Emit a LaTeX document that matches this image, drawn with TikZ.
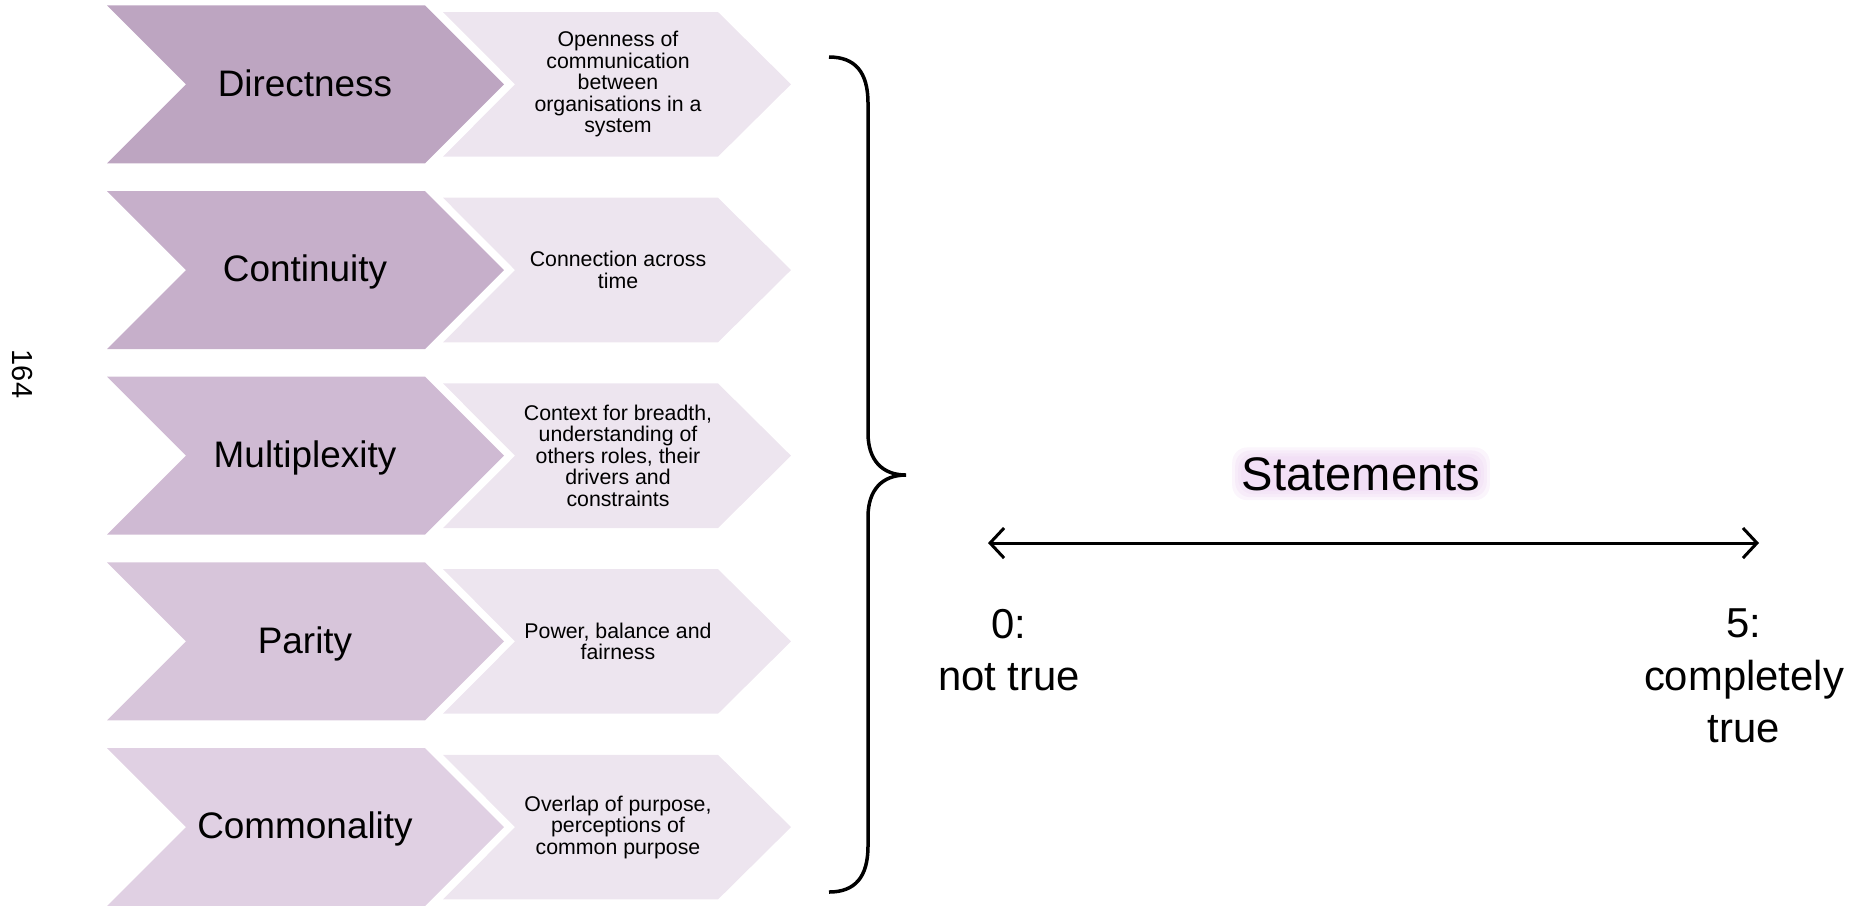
\documentclass[tikz,border=0pt]{standalone}
\usepackage{fontspec}
\setmainfont{Liberation Sans}
\usetikzlibrary{arrows.meta,positioning,calc,backgrounds}
\definecolor{mauve1}{HTML}{BDA5C1}
\definecolor{mauve2}{HTML}{C6AFCA}
\definecolor{mauve3}{HTML}{CFBAD3}
\definecolor{mauve4}{HTML}{D7C5DA}
\definecolor{mauve5}{HTML}{E0D0E3}
\definecolor{lilac}{HTML}{EDE5EF}
\definecolor{glowpink}{HTML}{E9CBEF}
\tikzstyle{bigtext}=[anchor=base, inner sep=0pt, font=\fontsize{10.5}{12}\selectfont]
\tikzstyle{desctext}=[align=center, inner sep=0pt, font=\fontsize{6.06}{6.12}\selectfont]
\tikzstyle{scaletext}=[anchor=base, align=center, inner sep=0pt, font=\fontsize{11.9}{14.8}\selectfont]
\tikzstyle{stmttext}=[anchor=base, inner sep=0pt, font=\fontsize{13.4}{16}\selectfont]
\tikzstyle{glow}=[fill=glowpink, opacity=0.2, rounded corners=1.5mm]
\tikzstyle{connect}=[{Straight Barb[length=1.4mm,width=3mm]}-{Straight Barb[length=1.4mm,width=3mm]}, line width=0.3mm]
\begin{document}
\begin{tikzpicture}
  \useasboundingbox (0,0) rectangle (18.62,-9.05);
  \node[rotate=-90, inner sep=0pt, font=\fontsize{8.25}{10}\selectfont] (page) at (0.225,-3.74) {164};

  % chevrons with their labels
  \foreach \lbl/\desc/\col [count=\i] in {
      Directness/{Openness of\\communication\\between\\organisations in a\\system}/mauve1,
      Continuity/{Connection across\\time}/mauve2,
      Multiplexity/{Context for breadth,\\understanding of\\others roles, their\\drivers and\\constraints}/mauve3,
      Parity/{Power, balance and\\fairness}/mauve4,
      Commonality/{Overlap of purpose,\\perceptions of\\common purpose}/mauve5}{
    \pgfmathsetmacro{\y}{-0.843-(\i-1)*1.857}
    \fill[\col, shift={(0,\y)}] (1.07,0.79) -- (4.25,0.79) -- (5.04,0) -- (4.25,-0.79) -- (1.07,-0.79) -- (1.86,0) -- cycle;
    \fill[lilac, shift={(0,\y)}] (4.43,0.723) -- (7.18,0.723) -- (7.91,0) -- (7.18,-0.723) -- (4.43,-0.723) -- (5.15,0) -- cycle;
    \node[bigtext] (lbl\i) at (3.05,\y-0.117) {\lbl};
    \node[desctext] (desc\i) at (6.18,\y) {\desc};
  }

  % brace
  \draw[line width=0.35mm] (8.29,-0.57) .. controls (8.55,-0.57) and (8.68,-0.72) .. (8.68,-1.03) -- (8.68,-4.33)
    .. controls (8.68,-4.60) and (8.82,-4.75) .. (9.06,-4.75)
    .. controls (8.82,-4.75) and (8.68,-4.90) .. (8.68,-5.17) -- (8.68,-8.46)
    .. controls (8.68,-8.77) and (8.55,-8.92) .. (8.29,-8.92);

  % statements scale
  \node[stmttext] (stmt) at (13.61,-4.90) {Statements};
  \begin{pgfonlayer}{background}
    \foreach \r in {0.0,0.03,0.06,0.09}
      \fill[glow] ([shift={(-\r,-\r)}]stmt.south west) rectangle ([shift={(\r,\r)}]stmt.north east);
  \end{pgfonlayer}
  \coordinate (scalemin) at (9.88,-5.43);
  \coordinate (scalemax) at (17.59,-5.43);
  \draw[connect] (scalemin) -- (scalemax);
  \node[scaletext] (low) at (10.09,-6.90) {0:\\not true};
  \node[scaletext] (high) at (17.44,-7.42) {5:\\completely\\true};
\end{tikzpicture}
\end{document}
